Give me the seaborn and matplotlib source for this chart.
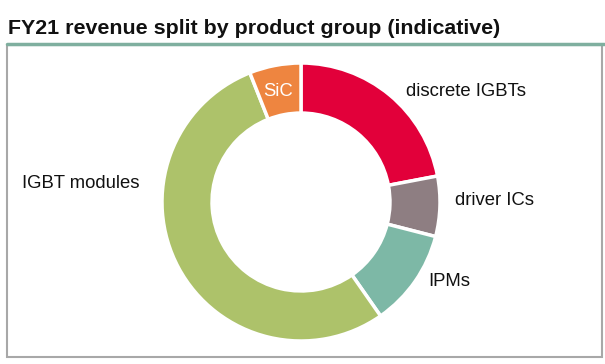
import matplotlib
matplotlib.use("Agg")
import matplotlib.pyplot as plt
import seaborn as sns
from matplotlib.patches import Rectangle
from matplotlib.lines import Line2D

categories = ["discrete IGBTs", "driver ICs", "IPMs", "IGBT modules", "SiC"]
values = [22, 7, 11.3, 53.7, 6]
colors = ["#E2003A", "#8E7E82", "#7DB8A6", "#ADC26A", "#EE8540"]
title = "FY21 revenue split by product group (indicative)"

sns.set_theme(style="white")
plt.rcParams["font.family"] = ["Liberation Sans", "DejaVu Sans"]

W, H = 605, 364
fig = plt.figure(figsize=(W / 100, H / 100), dpi=100)
fig.patch.set_facecolor("white")

def fx(px):
    return px / W

def fy(py):
    return 1 - py / H

# frame
fig.patches.append(Rectangle((fx(7), fy(357)), fx(602) - fx(7), fy(45) - fy(357),
                             transform=fig.transFigure, fill=False,
                             edgecolor="#A8A8A8", linewidth=1.5))
# title + underline
fig.text(fx(8), fy(28), title, fontsize=15.4, fontweight="bold", color="#111111",
         ha="left", va="center")
fig.lines.append(Line2D([fx(7), fx(604)], [fy(43.5), fy(43.5)], transform=fig.transFigure,
                        color="#7FAF9F", linewidth=2.5))

# donut
cx, cy, R = 301, 202, 139
ax = fig.add_axes([fx(cx - R), fy(cy + R), 2 * R / W, 2 * R / H])
ax.pie(values, colors=colors, startangle=90, counterclock=False, radius=1,
       wedgeprops=dict(width=0.36, edgecolor="white", linewidth=2.5))
ax.set_xlim(-1, 1)
ax.set_ylim(-1, 1)
ax.set_aspect("equal")
ax.axis("off")

label_pos = {
    "discrete IGBTs": (406, 91, "left", "#111111"),
    "driver ICs": (455, 200, "left", "#111111"),
    "IPMs": (428, 281, "left", "#111111"),
    "IGBT modules": (22, 184, "left", "#111111"),
    "SiC": (278, 91, "center", "white"),
}
for cat in categories:
    x, y, ha, col = label_pos[cat]
    fig.text(fx(x), fy(y), cat, fontsize=13.3, color=col, ha=ha, va="center")

fig.savefig("out.png", dpi=100, facecolor="white")
